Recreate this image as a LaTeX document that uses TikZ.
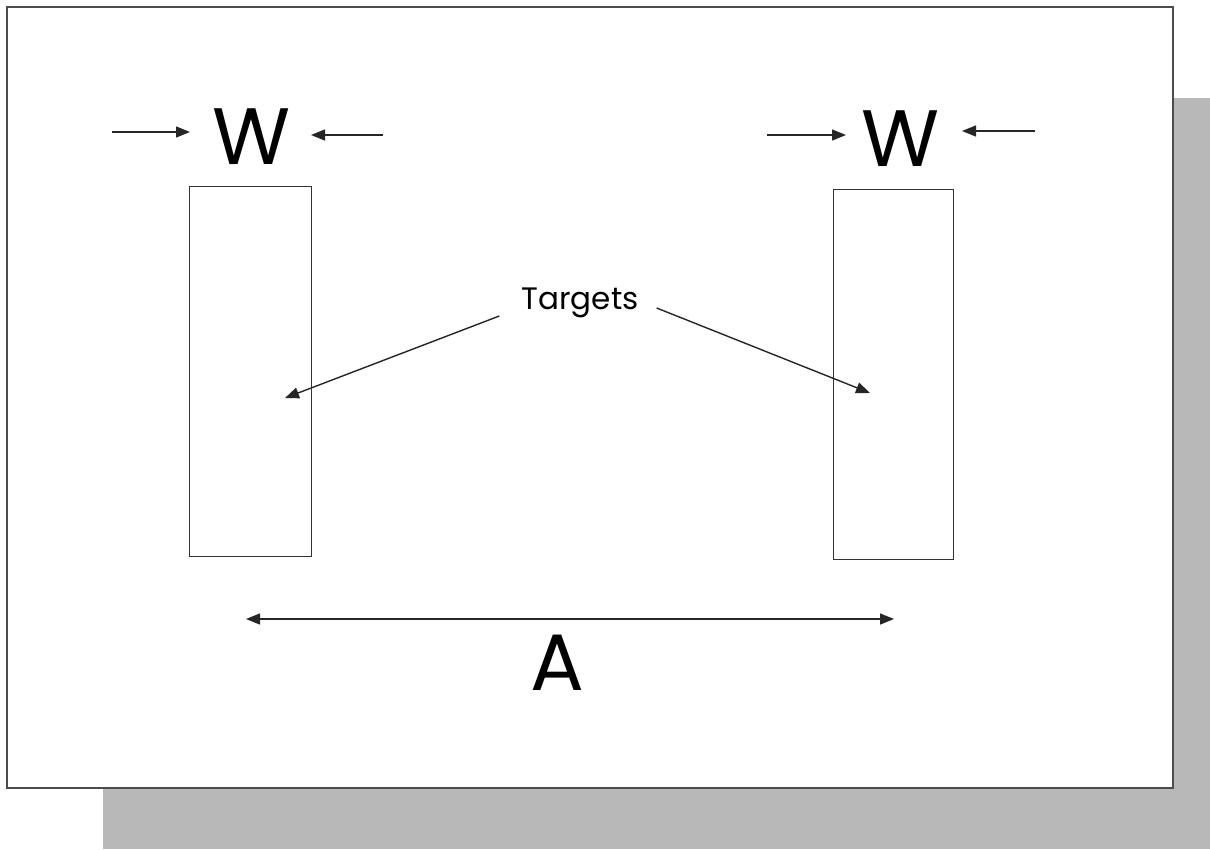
\documentclass[tikz,border=0pt]{standalone}
\usepackage{fontspec}
\setmainfont{Poppins}
\usetikzlibrary{arrows.meta}
\begin{document}
\begin{tikzpicture}[x=1pt,y=-1pt,
  panel/.style={draw=black!70,line width=1.6pt,fill=white},
  shadowbox/.style={fill=black!28,draw=none},
  target/.style={draw=black!80,line width=1.2pt},
  conn/.style={draw=black!85,line width=1.4pt,-{Triangle[length=14pt,width=11pt]}},
  dim/.style={draw=black!85,line width=1.4pt,{Triangle[length=14pt,width=11pt]}-{Triangle[length=14pt,width=11pt]}},
  big/.style={font=\fontsize{80}{80}\selectfont,inner sep=0pt},
  lab/.style={font=\fontsize{31}{31}\selectfont,inner sep=0pt}]
\useasboundingbox (0,0) rectangle (1210,849);
% shadow and panel
\path[shadowbox] (103,98) rectangle (1210,849);
\path[panel] (7,7) rectangle (1173,788);
% targets
\node[target,minimum width=122pt,minimum height=370pt,anchor=north west,inner sep=0pt] (t1) at (189,186) {};
\node[target,minimum width=120pt,minimum height=370pt,anchor=north west,inner sep=0pt] (t2) at (833,189) {};
% W labels
\node[big] (w1) at (252,137) {W};
\node[big] (w2) at (901,139) {W};
\coordinate (w1a) at (112,132);
\coordinate (w1ae) at (190,132);
\coordinate (w1b) at (383,135);
\coordinate (w1be) at (311,135);
\coordinate (w2a) at (767,135);
\coordinate (w2ae) at (846,135);
\coordinate (w2b) at (1035,131);
\coordinate (w2be) at (962,131);
\draw[conn] (w1a) -- (w1ae);
\draw[conn] (w1b) -- (w1be);
\draw[conn] (w2a) -- (w2ae);
\draw[conn] (w2b) -- (w2be);
% Targets label
\node[lab,anchor=base] (tg) at (580,309) {Targets};
\coordinate (p1) at (285,398);
\coordinate (p2) at (870,393);
\draw[conn] ([shift={(-22pt,-7pt)}]tg.base west) -- (p1);
\draw[conn] ([shift={(18pt,1pt)}]tg.base east) -- (p2);
% A dimension
\coordinate (a1) at (246,619);
\coordinate (a2) at (894,619);
\draw[dim] (a1) -- (a2);
\node[big] (A) at (557,663) {A};
\end{tikzpicture}
\end{document}
